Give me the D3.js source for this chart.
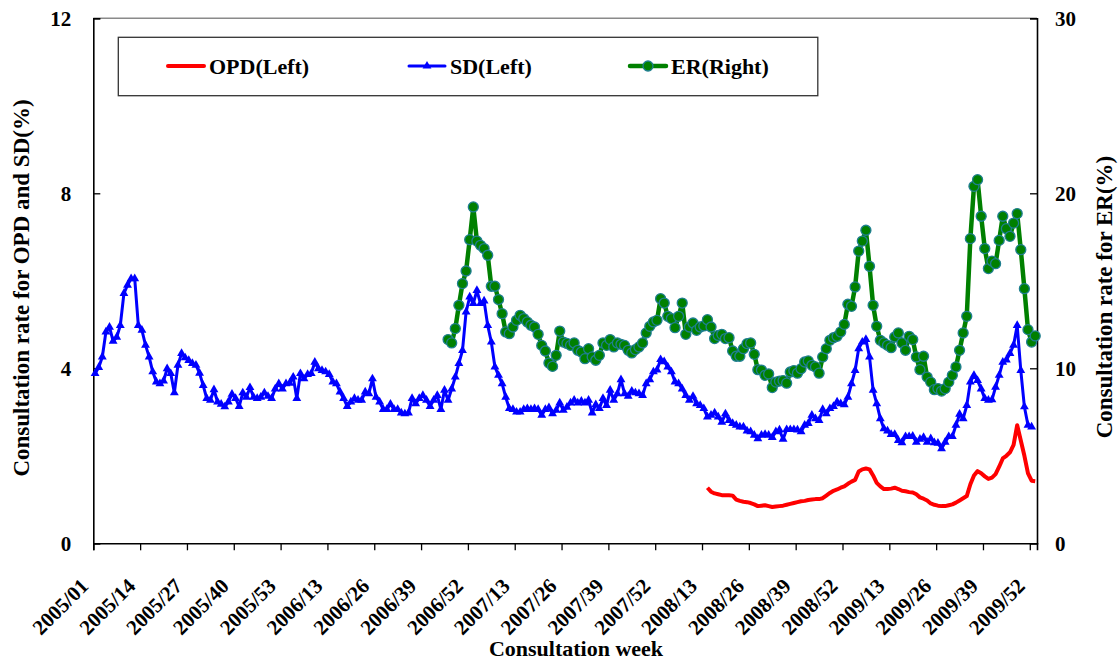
<!DOCTYPE html>
<html>
<head>
<meta charset="utf-8" />
<title>Consultation rates</title>
<script src="https://cdn.jsdelivr.net/npm/d3@7/dist/d3.min.js"></script>
<style>
  body { margin: 0; background: #fff; }
  svg text { font-family: "Liberation Serif", "Times New Roman", serif; font-weight: bold; fill: #000; }
</style>
</head>
<body>
<svg id="chart" width="1120" height="661"></svg>
<script>
// tick labels every 13 weeks, 2005/01 .. 2009/52
const weekTicks = ["2005/01","2005/14","2005/27","2005/40","2005/53","2006/13","2006/26","2006/39","2006/52",
  "2007/13","2007/26","2007/39","2007/52","2008/13","2008/26","2008/39","2008/52","2009/13","2009/26","2009/39","2009/52"]
const nWeeks = 262

// sentinel doctor consultation rate (%), from week index 0
const sdStart = 0
const sdValues = [
  3.88,4.02,4.26,4.83,4.94,4.62,4.71,4.98,5.71,5.90,
  6.05,6.05,4.98,4.87,4.53,4.26,3.92,3.69,3.65,3.71,
  3.99,3.88,3.44,4.07,4.34,4.24,4.18,4.11,4.07,3.89,
  3.61,3.31,3.27,3.51,3.23,3.18,3.12,3.23,3.41,3.31,
  3.13,3.44,3.34,3.56,3.34,3.31,3.34,3.44,3.36,3.31,
  3.53,3.65,3.53,3.65,3.66,3.80,3.31,3.88,3.76,3.86,
  3.88,4.14,3.99,3.95,3.92,3.86,3.69,3.65,3.46,3.31,
  3.13,3.23,3.31,3.27,3.27,3.46,3.42,3.76,3.34,3.23,
  3.06,3.06,3.18,3.06,3.06,2.98,2.96,2.98,3.31,3.19,
  3.31,3.38,3.27,3.13,3.27,3.38,3.06,3.50,3.27,3.53,
  3.80,4.11,4.41,5.29,5.63,5.48,5.78,5.48,5.54,4.98,
  4.60,4.03,3.84,3.65,3.34,3.08,3.06,3.00,3.00,3.06,
  3.08,3.06,3.08,3.06,2.93,3.06,3.10,2.96,3.04,3.21,
  3.04,3.11,3.21,3.27,3.21,3.25,3.21,3.27,2.98,3.17,
  3.08,3.31,3.15,3.50,3.27,3.42,3.74,3.42,3.36,3.48,
  3.44,3.42,3.38,3.65,3.74,3.92,3.96,4.20,4.15,4.03,
  3.92,3.69,3.65,3.53,3.38,3.27,3.36,3.19,3.15,3.08,
  2.89,2.93,2.98,2.89,2.77,2.96,2.81,2.74,2.70,2.66,
  2.66,2.57,2.55,2.47,2.39,2.47,2.49,2.47,2.42,2.55,
  2.59,2.38,2.60,2.60,2.60,2.59,2.55,2.70,2.74,2.93,
  2.85,2.81,3.06,2.96,3.08,3.13,3.23,3.19,3.17,3.34,
  3.65,3.95,4.45,4.60,4.66,4.26,3.50,3.19,2.85,2.62,
  2.57,2.49,2.49,2.35,2.30,2.44,2.44,2.45,2.31,2.38,
  2.42,2.31,2.39,2.30,2.29,2.16,2.31,2.44,2.44,2.70,
  2.95,2.85,3.15,3.69,3.84,3.72,3.53,3.31,3.27,3.28,
  3.57,3.84,4.14,4.19,4.34,4.53,4.98,3.95,3.12,2.70,
  2.66
]

// emergency room rate (%), right axis, from week index 98
const erStart = 98
const erValues = [
  11.64,11.45,
  12.27,13.60,14.84,15.56,17.35,19.22,17.27,17.03,16.84,16.46,
  14.69,14.69,13.93,13.12,12.08,11.98,12.36,12.74,13.03,12.84,
  12.65,12.46,12.36,11.94,11.31,10.99,10.30,10.11,10.74,12.13,
  11.50,11.42,11.31,11.45,11.03,10.93,10.55,11.12,10.65,10.46,
  10.74,11.45,11.31,11.64,11.22,11.45,11.37,11.31,11.03,10.88,
  11.07,11.22,11.45,12.02,12.40,12.65,12.74,13.98,13.73,12.97,
  12.84,12.32,12.97,13.73,11.94,12.36,12.59,12.17,12.36,12.42,
  12.78,12.36,11.70,11.88,11.94,11.70,11.75,10.99,10.69,10.69,
  11.12,11.41,11.45,10.80,9.92,9.90,9.60,9.68,8.90,9.21,
  9.27,9.30,9.15,9.79,9.87,9.72,9.98,10.36,10.42,10.17,
  10.08,9.72,10.65,11.12,11.60,11.75,11.83,12.08,12.51,13.66,
  13.54,14.65,16.70,17.27,17.89,15.83,13.60,12.40,11.60,11.45,
  11.31,11.18,11.79,12.02,11.45,11.03,11.83,11.64,10.65,9.92,
  10.69,9.50,9.21,8.78,8.84,8.70,8.84,9.21,9.60,10.08,
  11.03,12.02,12.97,17.41,20.40,20.78,18.69,16.84,15.70,16.13,
  15.98,17.31,18.69,17.98,17.54,18.30,18.84,16.78,14.55,12.21,
  11.50,11.85
]

// outpatient department rate (%), from week index 170
const opdStart = 170
const opdValues = [
  1.27,1.18,1.14,1.12,1.10,1.10,1.10,1.09,1.00,0.97,
  0.95,0.94,0.92,0.89,0.85,0.86,0.87,0.85,0.83,0.84,
  0.85,0.86,0.88,0.90,0.92,0.94,0.96,0.97,0.99,1.00,
  1.01,1.01,1.03,1.09,1.15,1.20,1.23,1.27,1.30,1.36,
  1.41,1.45,1.64,1.69,1.71,1.69,1.55,1.38,1.30,1.24,
  1.24,1.25,1.27,1.24,1.20,1.19,1.17,1.16,1.12,1.05,
  1.02,0.98,0.91,0.88,0.86,0.85,0.85,0.87,0.89,0.93,
  0.98,1.03,1.08,1.35,1.55,1.65,1.60,1.53,1.47,1.50,
  1.58,1.75,1.94,2.00,2.08,2.25,2.70,2.35,2.00,1.60,
  1.43,1.42
]

const leftTicks = [0, 4, 8, 12]
const rightTicks = [0, 10, 20, 30]

const svg = d3.select('#chart')
const plotLeft = 93.3, plotRight = 1037, plotTop = 18.3, plotBottom = 543.3

const x = d3.scaleLinear().domain([0, nWeeks]).range([plotLeft, plotRight])
const yL = d3.scaleLinear().domain([0, 12]).range([plotBottom, plotTop])
const yR = d3.scaleLinear().domain([0, 30]).range([plotBottom, plotTop])

function toPoints(start, vals) {
  return vals.map(function(v, i) { return { w: start + i, v: v } })
}
const sd = toPoints(sdStart, sdValues)
const er = toPoints(erStart, erValues)
const opd = toPoints(opdStart, opdValues)

// top border of plot area
svg.append('line')
  .attr('x1', plotLeft).attr('x2', plotRight).attr('y1', plotTop).attr('y2', plotTop)
  .attr('stroke', '#8a8a8a').attr('stroke-width', 1.5)

// axes
const xAxis = d3.axisBottom(x)
  .tickValues(d3.range(0, 261, 13))
  .tickSize(7)
  .tickFormat(function(d, i) { return weekTicks[i] })
const gx = svg.append('g').attr('transform', 'translate(0,' + plotBottom + ')').call(xAxis)
gx.selectAll('text')
  .attr('text-anchor', 'end')
  .attr('y', 0).attr('dy', 0)
  .attr('transform', 'translate(-4,44) rotate(-45)')
  .style('font-size', '21px')

const gyl = svg.append('g').attr('transform', 'translate(' + plotLeft + ',0)')
  .call(d3.axisLeft(yL).tickValues(leftTicks).tickSize(-7).tickPadding(22))
gyl.selectAll('text').style('font-size', '21px')

const gyr = svg.append('g').attr('transform', 'translate(' + plotRight + ',0)')
  .call(d3.axisRight(yR).tickValues(rightTicks).tickSize(-7).tickPadding(18))
gyr.selectAll('text').style('font-size', '21px')

svg.selectAll('.domain').attr('stroke', '#000').attr('stroke-width', 1.6)
svg.selectAll('.tick line').attr('stroke', '#000').attr('stroke-width', 1.3)

// series
const lineL = d3.line().x(function(d) { return x(d.w + 0.5) }).y(function(d) { return yL(d.v) })
const lineR = d3.line().x(function(d) { return x(d.w + 0.5) }).y(function(d) { return yR(d.v) })

svg.append('path').datum(opd)
  .attr('d', lineL).attr('fill', 'none')
  .attr('stroke', '#ff0000').attr('stroke-width', 4).attr('stroke-linejoin', 'round')

svg.append('path').datum(sd)
  .attr('d', lineL).attr('fill', 'none')
  .attr('stroke', '#0000ff').attr('stroke-width', 3).attr('stroke-linejoin', 'round')

const tri = d3.symbol().type(d3.symbolTriangle).size(34)
svg.append('g').selectAll('path')
  .data(sd).enter().append('path')
  .attr('d', tri)
  .attr('transform', function(d) { return 'translate(' + x(d.w + 0.5) + ',' + yL(d.v) + ')' })
  .attr('fill', '#0000ff')

svg.append('path').datum(er)
  .attr('d', lineR).attr('fill', 'none')
  .attr('stroke', '#008000').attr('stroke-width', 4.5).attr('stroke-linejoin', 'round')

svg.append('g').selectAll('circle')
  .data(er).enter().append('circle')
  .attr('cx', function(d) { return x(d.w + 0.5) })
  .attr('cy', function(d) { return yR(d.v) })
  .attr('r', 5)
  .attr('fill', '#008000')
  .attr('stroke', '#1f7f90').attr('stroke-width', 1.3)

// legend
const lg = svg.append('g')
lg.append('rect')
  .attr('x', 118.3).attr('y', 37.3).attr('width', 699.5).attr('height', 58.4)
  .attr('fill', '#fff').attr('stroke', '#333').attr('stroke-width', 1.3)

const legendItems = [
  { label: 'OPD(Left)', color: '#ff0000', x: 168, width: 4, mark: null },
  { label: 'SD(Left)', color: '#0000ff', x: 409, width: 3, mark: 'tri' },
  { label: 'ER(Right)', color: '#008000', x: 630, width: 4.5, mark: 'circle' }
]
legendItems.forEach(function(it) {
  const ly = 66
  lg.append('line')
    .attr('x1', it.x).attr('x2', it.x + 36).attr('y1', ly).attr('y2', ly)
    .attr('stroke', it.color).attr('stroke-width', it.width).attr('stroke-linecap', 'round')
  if (it.mark === 'tri') {
    lg.append('path').attr('d', tri).attr('transform', 'translate(' + (it.x + 18) + ',' + ly + ')').attr('fill', it.color)
  } else if (it.mark === 'circle') {
    lg.append('circle').attr('cx', it.x + 18).attr('cy', ly).attr('r', 5)
      .attr('fill', it.color).attr('stroke', '#1f7f90').attr('stroke-width', 1.3)
  }
  lg.append('text')
    .attr('x', it.x + 41).attr('y', ly + 8)
    .style('font-size', '22px')
    .text(it.label)
})

// axis titles
svg.append('text')
  .attr('x', 576).attr('y', 656)
  .attr('text-anchor', 'middle')
  .style('font-size', '22px')
  .text('Consultation week')

svg.append('text')
  .attr('transform', 'translate(29,288) rotate(-90)')
  .attr('text-anchor', 'middle')
  .style('font-size', '23px')
  .text('Consultation rate for OPD and SD(%)')

svg.append('text')
  .attr('transform', 'translate(1112,297) rotate(-90)')
  .attr('text-anchor', 'middle')
  .style('font-size', '23px')
  .text('Consultation rate for ER(%)')
</script>
</body>
</html>
